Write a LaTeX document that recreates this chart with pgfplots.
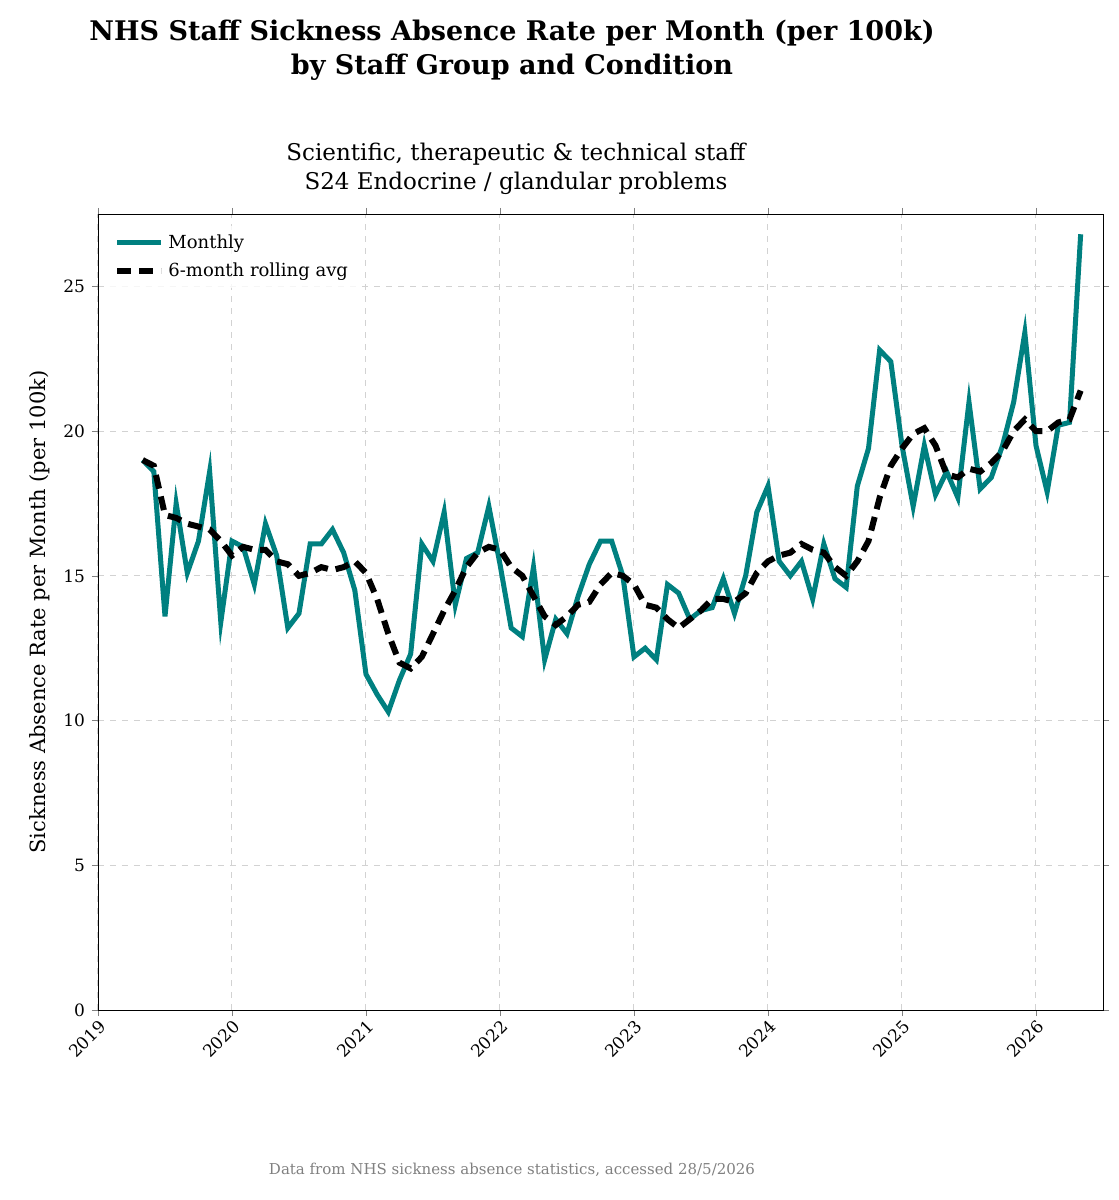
\documentclass[border=0pt]{standalone}
\usepackage{pgfplots}
\pgfplotsset{compat=1.18}
\usepackage{pgfplotstable}
\usetikzlibrary{calc}
\usepackage{fontspec}
\setmainfont{DejaVu Serif}
\definecolor{teal}{RGB}{0,128,128}
\pgfplotstableread{
i m r
0 19.0 19.0
1 18.6 18.8
2 13.6 17.1
3 17.5 17.0
4 15.1 16.8
5 16.2 16.7
6 18.6 16.6
7 13.4 16.2
8 16.2 15.7
9 16.0 16.0
10 14.7 15.9
11 16.8 15.9
12 15.7 15.5
13 13.2 15.4
14 13.7 15.0
15 16.1 15.1
16 16.1 15.3
17 16.6 15.2
18 15.8 15.3
19 14.5 15.5
20 11.6 15.1
21 10.9 14.2
22 10.3 13.0
23 11.4 12.0
24 12.3 11.8
25 16.1 12.2
26 15.5 13.0
27 17.2 13.8
28 14.0 14.5
29 15.6 15.3
30 15.8 15.8
31 17.4 16.0
32 15.4 15.9
33 13.2 15.3
34 12.9 15.0
35 15.3 14.3
36 12.1 13.6
37 13.5 13.3
38 13.0 13.6
39 14.3 14.0
40 15.4 14.1
41 16.2 14.7
42 16.2 15.1
43 15.0 15.0
44 12.2 14.7
45 12.5 14.0
46 12.1 13.9
47 14.7 13.5
48 14.4 13.2
49 13.5 13.5
50 13.8 13.8
51 13.9 14.2
52 14.9 14.2
53 13.7 14.1
54 15.0 14.4
55 17.2 15.1
56 18.1 15.5
57 15.5 15.7
58 15.0 15.8
59 15.5 16.1
60 14.2 15.9
61 16.1 15.8
62 14.9 15.3
63 14.6 15.0
64 18.1 15.5
65 19.4 16.2
66 22.8 17.7
67 22.4 18.8
68 19.5 19.4
69 17.4 19.9
70 19.5 20.1
71 17.8 19.5
72 18.6 18.5
73 17.7 18.4
74 21.0 18.7
75 18.0 18.6
76 18.4 18.9
77 19.5 19.3
78 21.0 20.0
79 23.4 20.4
80 19.5 20.0
81 17.9 20.0
82 20.2 20.3
83 20.3 20.4
84 26.8 21.4
}\data
\begin{document}
\begin{tikzpicture}
\begin{axis}[name=ax, scale only axis, width=502.5pt, height=398pt,
  xmin=2019, xmax=2026.5, ymin=0, ymax=27.5,
  xtick={2019,...,2026}, ytick={0,5,...,25},
  /pgf/number format/.cd, 1000 sep={}, assume math mode=true, /pgfplots/.cd,
  x tick label style={rotate=45, anchor=north east, inner sep=1pt, font=\fontsize{8.5}{10}\selectfont},
  y tick label style={font=\fontsize{8.5}{10}\selectfont},
  grid=major, major grid style={gray!35, dashed, line width=0.5pt},
  tick align=outside, major tick length=3pt,
  ylabel={Sickness Absence Rate per Month (per 100k)},
  ylabel style={font=\fontsize{10.5}{12}\selectfont},
  legend style={at={(0.01,0.985)}, anchor=north west, draw=none, fill=white, fill opacity=0.8, text opacity=1, font=\fontsize{9}{11}\selectfont, row sep=2pt},
  legend cell align=left,
  legend image code/.code={\draw[#1] (0pt,0pt) -- (22pt,0pt);},
]
\addplot[teal, line width=2.5pt] table[x expr=2019.3333+\thisrow{i}/12, y=m] {\data};
\addlegendentry{Monthly}
\addplot[black, line width=3pt, dash pattern=on 7pt off 4pt] table[x expr=2019.3333+\thisrow{i}/12, y=r] {\data};
\addlegendentry{6-month rolling avg}
\end{axis}
\node[font=\fontsize{11.5}{14.5}\selectfont, align=center, anchor=south] at ($(ax.north west)+(209pt,6pt)$) {Scientific, therapeutic \& technical staff\\S24 Endocrine / glandular problems};
\node[font=\bfseries\fontsize{13.5}{17}\selectfont, align=center] at ($(ax.north west)+(207pt,82pt)$) {NHS Staff Sickness Absence Rate per Month (per 100k)\\by Staff Group and Condition};
\node[font=\fontsize{7.5}{9}\selectfont, text=gray] at ($(ax.south west)+(207pt,-80pt)$) {Data from NHS sickness absence statistics, accessed 28/5/2026};
\useasboundingbox ($(ax.south west)+(-49pt,-95pt)$) rectangle ($(ax.north east)+(8pt,107pt)$);
\end{tikzpicture}
\end{document}
